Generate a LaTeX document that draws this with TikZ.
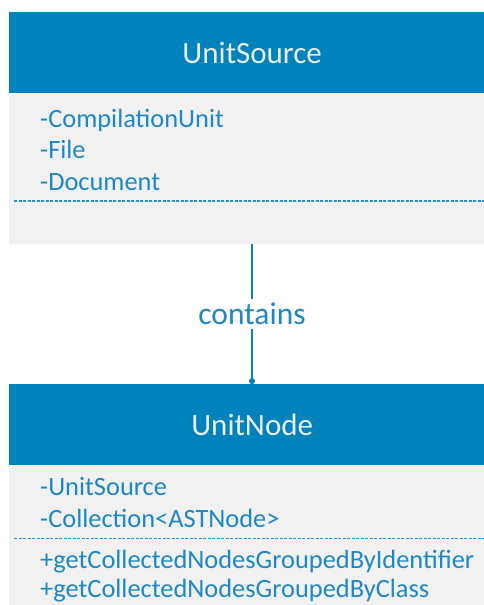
\documentclass[tikz,border=0pt]{standalone}
\usepackage{fontspec}
\setmainfont{Carlito}
\usetikzlibrary{arrows.meta}
\definecolor{umlhead}{HTML}{0083BD}
\definecolor{umlbody}{HTML}{F1F1F1}
\definecolor{umltext}{HTML}{1E88C6}
\definecolor{umltitle}{HTML}{E8EEF2}
\definecolor{umlline}{HTML}{0A80C0}
\definecolor{umlsep}{HTML}{2A90CC}
\begin{document}
\begin{tikzpicture}[x=1pt,y=-1pt,
  classhead/.style={draw=none, fill=umlhead, text=umltitle, font=\fontsize{31}{36}\selectfont,
    minimum width=486pt, minimum height=81pt, anchor=north west, inner sep=0pt},
  classbody/.style={draw=none, fill=umlbody, minimum width=486pt, anchor=north west, inner sep=0pt},
  member/.style={anchor=base west, text=umltext, font=\fontsize{26.4}{30}\selectfont, inner sep=0pt},
  separator/.style={draw=umlsep, line width=1.6pt, dash pattern=on 3pt off 1.5pt},
  conn/.style={draw=umlline, line width=1.5pt, -{Circle[length=6pt]}},
  connlabel/.style={fill=white, text=umltext, font=\fontsize{31.5}{36}\selectfont, inner xsep=2pt, inner ysep=4pt}]
\useasboundingbox (0,0) rectangle (484,605);
\clip (0,0) rectangle (484,605);

% class UnitSource
\node[classhead] (usHead) at (9,12) {UnitSource};
\node[classbody, minimum height=150pt] (usBody) at (usHead.south west) {};
\node[member] (usA) at (40,127) {-CompilationUnit};
\node[member] (usB) at (40,158) {-File};
\node[member] (usC) at (40,190) {-Document};
\coordinate (usSepL) at (14,201);
\coordinate (usSepR) at (495,201);
\draw[separator] (usSepL) -- (usSepR);

% class UnitNode
\node[classhead] (unHead) at (9,384) {UnitNode};
\node[classbody, minimum height=160pt] (unBody) at (unHead.south west) {};
\node[member] (unA) at (40,495) {-UnitSource};
\node[member] (unB) at (40,527) {-Collection<ASTNode>};
\coordinate (unSepL) at (14,538.5);
\coordinate (unSepR) at (495,538.5);
\draw[separator] (unSepL) -- (unSepR);
\node[member] (unC) at (40,568) {+getCollectedNodesGroupedByIdentifier};
\node[member] (unD) at (40,597) {+getCollectedNodesGroupedByClass};

% association
\draw[conn] (usBody.south -| 252,0) -- node[connlabel] (rel) {contains} (unHead.north -| 252,0);
\end{tikzpicture}
\end{document}
